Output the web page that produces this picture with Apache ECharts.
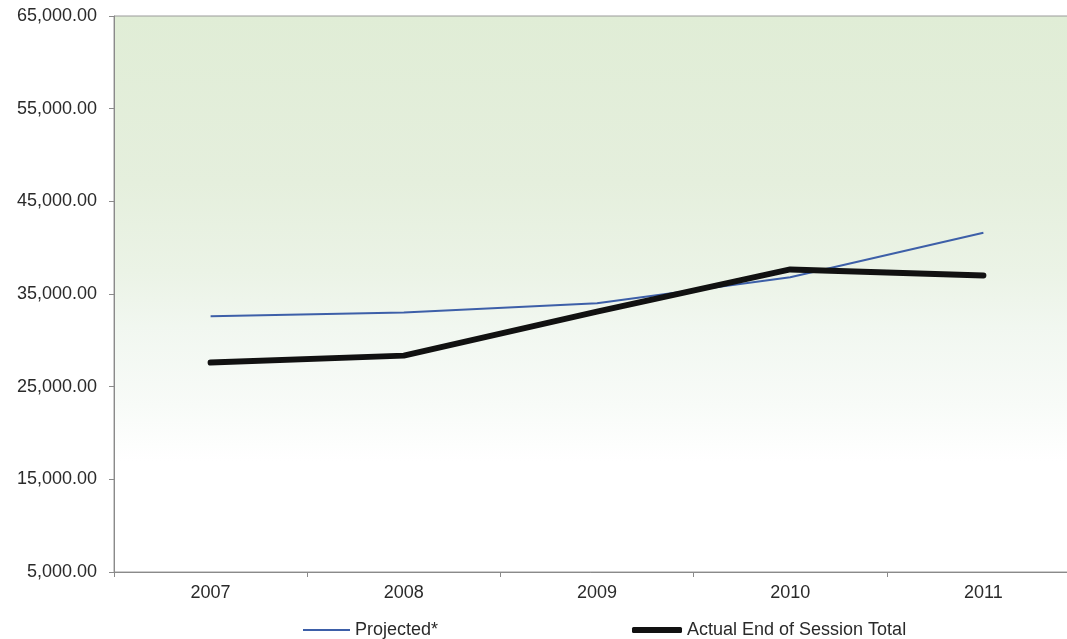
<!DOCTYPE html>
<html>
<head>
<meta charset="utf-8">
<style>
  html, body { margin: 0; padding: 0; background: #ffffff; }
  #chart { width: 1067px; height: 639px; }
</style>
<script src="https://cdn.jsdelivr.net/npm/echarts@6/dist/echarts.min.js"></script>
</head>
<body>
<div id="chart"></div>
<script>
const categories = ['2007', '2008', '2009', '2010', '2011'];
const projectedValues = [32600, 33000, 34000, 36800, 41600];
const actualValues = [27600, 28350, 33100, 37650, 37000];
const seriesNames = ['Projected*', 'Actual End of Session Total'];
const yMin = 5000, yMax = 65000, yStep = 10000;

const chart = echarts.init(document.getElementById('chart'), null, { renderer: 'canvas' });
const font = 'Liberation Sans, Arial, sans-serif';

chart.setOption({
  backgroundColor: '#ffffff',
  animation: false,
  grid: {
    left: 114, top: 16, height: 556, width: 966,
    outerBoundsMode: 'none',
    containLabel: false,
    show: true,
    borderColor: '#9a9a9a',
    borderWidth: 1,
    backgroundColor: {
      type: 'linear', x: 0, y: 0, x2: 0, y2: 1,
      colorStops: [
        { offset: 0, color: '#e0edd6' },
        { offset: 0.3, color: '#e5efdd' },
        { offset: 0.46, color: '#ebf3e6' },
        { offset: 0.56, color: '#f1f7f0' },
        { offset: 0.7, color: '#f8fbf8' },
        { offset: 0.8, color: '#ffffff' },
        { offset: 1, color: '#ffffff' }
      ]
    }
  },
  legend: [
    {
      data: [{ name: seriesNames[0], icon: 'rect' }],
      left: 298, top: 614,
      itemWidth: 47, itemHeight: 2, itemGap: 0,
      itemStyle: { color: '#3d5fa8', borderWidth: 0 },
      lineStyle: { width: 0 },
      textStyle: { fontFamily: font, fontSize: 18, color: '#2a2a2a', lineHeight: 22 }
    },
    {
      data: [{ name: seriesNames[1], icon: 'roundRect' }],
      left: 627, top: 614,
      itemWidth: 50, itemHeight: 6, itemGap: 0,
      itemStyle: { color: '#111111', borderWidth: 0 },
      lineStyle: { width: 0 },
      textStyle: { fontFamily: font, fontSize: 18, color: '#2a2a2a', lineHeight: 22 }
    }
  ],
  xAxis: {
    type: 'category',
    data: categories,
    boundaryGap: true,
    axisLine: { show: true, lineStyle: { color: '#8a8a8a', width: 1 } },
    axisTick: { show: true, length: 5, lineStyle: { color: '#8a8a8a' } },
    axisLabel: { fontFamily: font, fontSize: 18, color: '#2a2a2a', margin: 12 },
    splitLine: { show: false }
  },
  yAxis: {
    type: 'value',
    min: yMin, max: yMax, interval: yStep,
    axisLine: { show: true, lineStyle: { color: '#8a8a8a', width: 1 } },
    axisTick: { show: true, length: 5, lineStyle: { color: '#8a8a8a' } },
    axisLabel: {
      fontFamily: font, fontSize: 18, color: '#2a2a2a', margin: 17,
      formatter: v => v.toLocaleString('en-US', { minimumFractionDigits: 2, maximumFractionDigits: 2 })
    },
    splitLine: { show: false }
  },
  series: [
    {
      name: seriesNames[0],
      type: 'line',
      data: projectedValues,
      symbol: 'none',
      lineStyle: { color: '#3d5fa8', width: 2 },
      itemStyle: { color: '#3d5fa8' },
      z: 2
    },
    {
      name: seriesNames[1],
      type: 'line',
      data: actualValues,
      symbol: 'none',
      lineStyle: { color: '#111111', width: 6, cap: 'round', join: 'round' },
      itemStyle: { color: '#111111' },
      z: 3
    }
  ]
});
</script>
</body>
</html>
